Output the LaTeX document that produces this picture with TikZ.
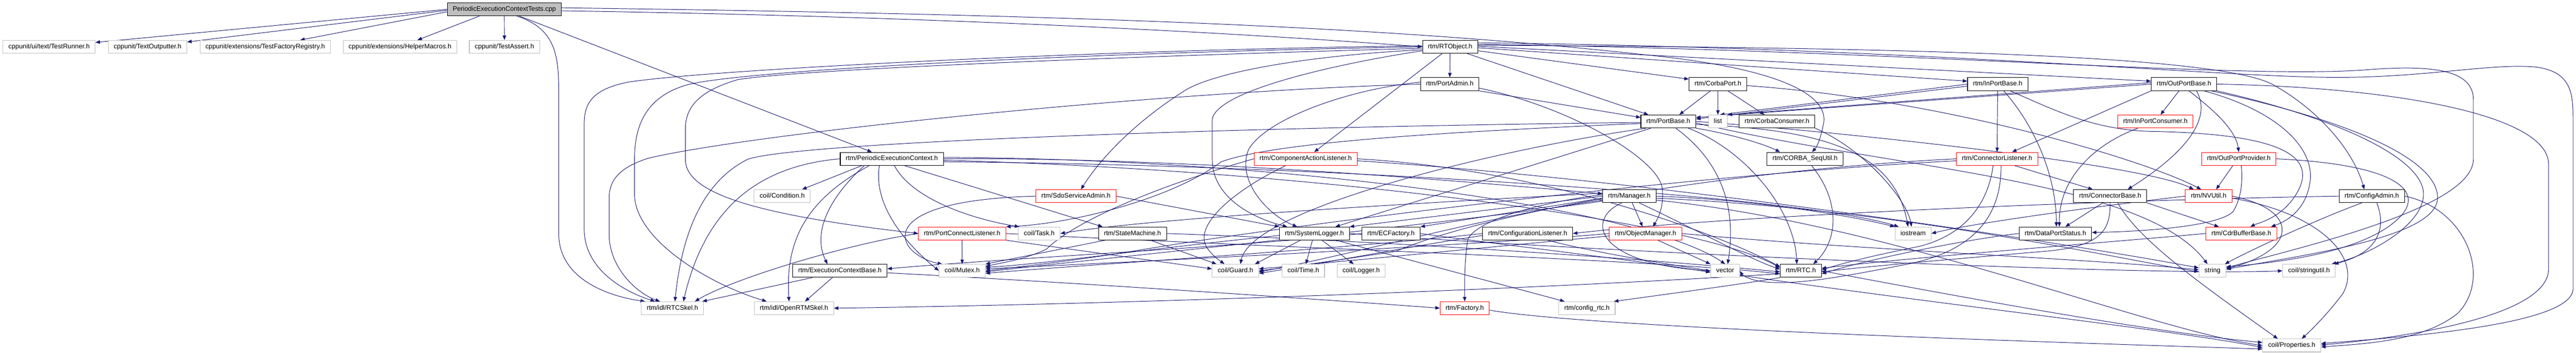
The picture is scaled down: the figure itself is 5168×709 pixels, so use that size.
\documentclass[tikz,border=0pt]{standalone}
\usepackage{fontspec}
\newfontfamily\dxfamily{Liberation Sans}
\newcommand\dxgraphfont{\dxfamily\fontsize{13.2pt}{15pt}\selectfont}
\usetikzlibrary{arrows.meta}
\definecolor{edgeblue}{HTML}{191970}
\definecolor{grey75}{HTML}{BFBFBF}
\pgfdeclarelayer{bg}
\pgfdeclarelayer{edges}
\pgfsetlayers{bg,edges,main}
\begin{document}
\begin{tikzpicture}[x=1pt,y=-1pt,
  nd/.style={draw, line width=1.1pt, fill=white, font=\dxgraphfont, inner xsep=11pt, inner ysep=0pt, minimum height=26pt, text height=9.6pt, text depth=2.7pt},
  gn/.style={nd, draw=grey75},
  bn/.style={nd, draw=black},
  rn/.style={nd, draw=red},
  rootn/.style={nd, draw=black, fill=grey75},
  e/.style={draw=edgeblue, line width=1pt, -{Triangle[length=9pt,width=7pt]}}]
\useasboundingbox (0,0) rectangle (5168,709);
\begin{pgfonlayer}{bg}
\fill[white] (0,0) rectangle (5168,709);
\end{pgfonlayer}
% nodes
\node[rootn] (T) at (1011.8,18.7) {PeriodicExecutionContextTests.cpp};
\node[gn] (testrunner) at (98.5,94) {cppunit/ui/text/TestRunner.h};
\node[gn] (textout) at (296,94) {cppunit/TextOutputter.h};
\node[gn] (tfr) at (532,94) {cppunit/extensions/TestFactoryRegistry.h};
\node[gn] (helper) at (802.5,94) {cppunit/extensions/HelperMacros.h};
\node[gn] (testassert) at (1012,94) {cppunit/TestAssert.h};
\node[bn] (rtobject) at (2909.3,94) {rtm/RTObject.h};
\node[bn] (portadmin) at (2908.5,169) {rtm/PortAdmin.h};
\node[bn] (corbaport) at (3446.5,169) {rtm/CorbaPort.h};
\node[bn] (inportbase) at (4007.8,169) {rtm/InPortBase.h};
\node[bn] (outportbase) at (4381.5,169) {rtm/OutPortBase.h};
\node[bn] (portbase) at (3347,244) {rtm/PortBase.h};
\node[gn] (list) at (3446.5,244) {list};
\node[bn] (corbaconsumer) at (3565,244) {rtm/CorbaConsumer.h};
\node[rn] (inportconsumer) at (4324,244) {rtm/InPortConsumer.h};
\node[bn] (pec) at (1789.2,319) {rtm/PeriodicExecutionContext.h};
\node[rn] (cal) at (2619.5,319) {rtm/ComponentActionListener.h};
\node[bn] (sequtil) at (3621.2,319) {rtm/CORBA\_SeqUtil.h};
\node[rn] (connlistener) at (4006.5,319) {rtm/ConnectorListener.h};
\node[rn] (outportprovider) at (4491.5,319) {rtm/OutPortProvider.h};
\node[gn] (condition) at (1569.2,394) {coil/Condition.h};
\node[rn] (sdoadmin) at (2158.5,394) {rtm/SdoServiceAdmin.h};
\node[bn] (manager) at (3268.7,394) {rtm/Manager.h};
\node[bn] (connbase) at (4233.5,394) {rtm/ConnectorBase.h};
\node[rn] (nvutil) at (4431,394) {rtm/NVUtil.h};
\node[bn] (configadmin) at (4758.3,394) {rtm/ConfigAdmin.h};
\node[rn] (pcl) at (1930.3,469) {rtm/PortConnectListener.h};
\node[gn] (task) at (2085,469) {coil/Task.h};
\node[bn] (statemachine) at (2272,469) {rtm/StateMachine.h};
\node[bn] (syslogger) at (2637,469) {rtm/SystemLogger.h};
\node[bn] (ecfactory) at (2790.5,469) {rtm/ECFactory.h};
\node[bn] (conflistener) at (3064.8,469) {rtm/ConfigurationListener.h};
\node[rn] (objmanager) at (3301.2,469) {rtm/ObjectManager.h};
\node[gn] (iostream) at (3838,469) {iostream};
\node[bn] (dpstatus) at (4123.5,469) {rtm/DataPortStatus.h};
\node[rn] (cdrbuf) at (4496.5,469) {rtm/CdrBufferBase.h};
\node[bn] (ecbase) at (1685,544) {rtm/ExecutionContextBase.h};
\node[gn] (mutex) at (1930.3,544) {coil/Mutex.h};
\node[gn] (guard) at (2478.5,544) {coil/Guard.h};
\node[gn] (time) at (2614.7,544) {coil/Time.h};
\node[gn] (logger) at (2730.7,544) {coil/Logger.h};
\node[gn] (vector) at (3461,544) {vector};
\node[bn] (rtc) at (3612.8,544) {rtm/RTC.h};
\node[gn] (string) at (4438.7,544) {string};
\node[gn] (stringutil) at (4632.3,544) {coil/stringutil.h};
\node[gn] (rtcskel) at (1349,619) {rtm/idl/RTCSkel.h};
\node[gn] (openrtmskel) at (1593,619) {rtm/idl/OpenRTMSkel.h};
\node[rn] (factory) at (2938.5,619) {rtm/Factory.h};
\node[gn] (configrtc) at (3183.8,619) {rtm/config\_rtc.h};
\node[gn] (properties) at (4597.7,694) {coil/Properties.h};

\begin{pgfonlayer}{edges}
% Tests.cpp
\draw[e] (T.west) -- (testrunner);
\draw[e] ([yshift=-2pt]T.west) -- (textout);
\draw[e] ([yshift=-5pt]T.west) -- (tfr);
\draw[e] ([xshift=-50pt]T.south) -- (helper);
\draw[e] (T) -- (testassert);
\draw[e] ([xshift=25pt]T.south) .. controls (1121,60) and (1121,120) .. (1121,200) -- (1121,470) .. controls (1121,560) and (1220,595) .. ([xshift=-55pt]rtcskel.north);
\draw[e] ([xshift=30pt]T.south) -- ([xshift=-40pt]pec.north);
\draw[e] ([yshift=-3pt]T.east) .. controls (2000,35) and (2600,75) .. (rtobject.west);
\draw[e] ([yshift=3pt]T.east) .. controls (2200,30) and (2800,55) .. (3300,110) .. controls (3600,140) and (3670,200) .. (3658,250) .. controls (3652,280) and (3645,295) .. ([xshift=14pt]sequtil.north);
% RTObject
\draw[e] (rtobject) -- (portadmin);
\draw[e] ([xshift=-16pt]rtobject.south) -- ([xshift=17pt]cal.north);
\draw[e] ([xshift=34pt]rtobject.south) -- ([xshift=-40pt]portbase.north);
\draw[e] ([yshift=-8pt]rtobject.east) -- ([yshift=10pt]corbaport.west);
\draw[e] ([yshift=-2pt]rtobject.east) -- ([yshift=6pt]inportbase.west);
\draw[e] ([yshift=1pt]rtobject.east) -- ([yshift=6pt]outportbase.west);
\draw[e] ([yshift=3pt]rtobject.east) .. controls (3800,95) and (4450,110) .. (4560,170) .. controls (4650,220) and (4720,300) .. ([xshift=-15pt]configadmin.north);
\draw[e] ([yshift=5pt]rtobject.east) .. controls (3800,100) and (4500,160) .. (4750,140) .. controls (4880,130) and (4962,140) .. (4962,200) -- (4962,320) .. controls (4962,420) and (4600,500) .. ([yshift=6pt]string.east);
\draw[e] ([yshift=8pt]rtobject.east) .. controls (3800,95) and (4400,150) .. (4650,155) .. controls (4850,160) and (5000,125) .. (5090,135) .. controls (5160,145) and (5162,190) .. (5162,240) -- (5162,580) .. controls (5162,650) and (4850,675) .. ([yshift=4pt]properties.east);
\draw[e] ([yshift=2pt]rtobject.west) .. controls (2200,100) and (1420,140) .. (1260,165) .. controls (1185,180) and (1172,210) .. (1172,250) -- (1172,460) .. controls (1172,540) and (1250,585) .. ([xshift=-35pt]rtcskel.north);
\draw[e] (rtobject.west) .. controls (2200,105) and (1500,140) .. (1380,170) .. controls (1290,195) and (1273,260) .. (1273,320) -- (1273,390) .. controls (1273,480) and (1420,570) .. ([xshift=-55pt]openrtmskel.north);
\draw[e] ([yshift=-3pt]rtobject.west) .. controls (2200,115) and (1600,140) .. (1480,160) .. controls (1395,185) and (1375,220) .. (1375,260) -- (1375,320) .. controls (1375,385) and (1500,430) .. (pcl.west);
\draw[e] ([yshift=-6pt]rtobject.west) .. controls (2650,110) and (2450,140) .. (2380,180) .. controls (2300,230) and (2220,300) .. ([xshift=10pt]sdoadmin.north);
\draw[e] ([yshift=-8pt]rtobject.west) .. controls (2700,125) and (2440,180) .. (2432,240) -- (2432,320) .. controls (2432,400) and (2520,440) .. ([xshift=16pt]syslogger.north west);
% PortAdmin
\draw[e] (portadmin.south east) -- ([yshift=8pt]portbase.west);
\draw[e] ([yshift=-8pt]portadmin.east) .. controls (3150,215) and (3330,320) .. (3335,380) .. controls (3338,420) and (3325,440) .. ([xshift=15pt]objmanager.north);
\draw[e] (portadmin.west) .. controls (2300,185) and (1500,270) .. (1300,318) .. controls (1232,340) and (1222,370) .. (1222,400) -- (1222,470) .. controls (1222,540) and (1280,590) .. ([xshift=-25pt]rtcskel.north);
\draw[e] ([yshift=4pt]portadmin.west) .. controls (2700,180) and (2540,240) .. (2505,300) .. controls (2480,360) and (2540,430) .. ([xshift=36pt]syslogger.north west);
% CorbaPort
\draw[e] ([xshift=-15pt]corbaport.south) -- ([xshift=22pt]portbase.north);
\draw[e] (corbaport) -- (list);
\draw[e] ([xshift=20pt]corbaport.south) -- ([xshift=-25pt]corbaconsumer.north);
\draw[e] ([yshift=-3pt]corbaport.east) .. controls (3900,200) and (4300,320) .. ([xshift=-15pt]nvutil.north);
% InPortBase
\draw[e] (inportbase) -- (connlistener);
\draw[e] ([xshift=12pt]inportbase.south) .. controls (4080,250) and (4125,350) .. ([xshift=2pt]dpstatus.north);
\draw[e] (inportbase.west) -- ([xshift=4pt]list.north);
\draw[e] ([yshift=-4pt]inportbase.west) -- ([yshift=5pt]portbase.east);
\draw[e] ([xshift=25pt]inportbase.south) .. controls (4120,220) and (4200,262) .. (4320,264) .. controls (4620,270) and (4650,330) .. (4600,400) .. controls (4570,440) and (4530,448) .. ([xshift=18pt]cdrbuf.north);
% OutPortBase
\draw[e] ([xshift=-10pt]outportbase.south) -- (inportconsumer);
\draw[e] ([xshift=10pt]outportbase.south) .. controls (4440,220) and (4485,260) .. (outportprovider.north);
\draw[e] (outportbase.south west) -- ([xshift=30pt]connlistener.north);
\draw[e] ([xshift=25pt]outportbase.south) .. controls (4440,240) and (4380,310) .. ([xshift=35pt]connbase.north);
\draw[e] ([xshift=40pt]outportbase.south) .. controls (4560,220) and (4640,290) .. (4635,360) .. controls (4630,410) and (4600,440) .. ([xshift=-12pt]cdrbuf.north east);
\draw[e] (outportbase.south east) .. controls (4700,240) and (4862,320) .. (4862,390) .. controls (4862,450) and (4760,510) .. ([xshift=-8pt]stringutil.north east);
\draw[e] ([xshift=55pt]outportbase.south) .. controls (4750,250) and (4895,330) .. (4890,400) .. controls (4885,480) and (4600,515) .. ([yshift=3pt]string.east);
\draw[e] (outportbase.east) .. controls (4800,175) and (5113,230) .. (5113,330) -- (5113,540) .. controls (5113,640) and (4800,680) .. ([yshift=1pt]properties.east);
\draw[e] ([yshift=3pt]outportbase.west) -- (list.north east);
\draw[e] (outportbase.west) -- ([yshift=8pt]portbase.east);
% InPortConsumer
\draw[e] ([xshift=-35pt]inportconsumer.south) .. controls (4200,290) and (4130,360) .. ([xshift=8pt]dpstatus.north);
% ConnectorListener
\draw[e] ([xshift=35pt]connlistener.south) -- ([xshift=-35pt]connbase.north);
\draw[e] ([xshift=-8pt]connlistener.south) .. controls (3990,400) and (3950,470) .. (3850,495) .. controls (3750,515) and (3700,528) .. ([yshift=2pt]rtc.east);
\draw[e] ([xshift=8pt]connlistener.south) .. controls (4015,420) and (3975,500) .. (3830,530) .. controls (3700,555) and (3600,575) .. (3530,565) .. controls (3505,560) and (3495,552) .. (vector.east);
\draw[e] (connlistener.west) .. controls (3500,340) and (3000,420) .. (2800,505) .. controls (2700,520) and (2600,535) .. (guard.east);
\draw[e] ([yshift=-4pt]connlistener.west) .. controls (3400,350) and (2600,450) .. (2300,500) .. controls (2150,525) and (2050,535) .. (mutex.east);
% ConnectorBase
\draw[e] ([xshift=-15pt]connbase.south) -- ([xshift=20pt]dpstatus.north);
\draw[e] (connbase.south) .. controls (4233,460) and (4220,495) .. (4100,505) .. controls (3900,522) and (3750,535) .. ([yshift=-2pt]rtc.east);
\draw[e] ([xshift=15pt]connbase.south) .. controls (4290,480) and (4400,560) .. ([xshift=-28pt]properties.north);
\draw[e] (connbase.south east) -- ([xshift=-45pt]cdrbuf.north);
% DataPortStatus
\draw[e] (dpstatus.west) .. controls (3950,480) and (3750,520) .. ([yshift=-6pt]rtc.east);
% OutPortProvider
\draw[e] ([xshift=-12pt]outportprovider.south) -- ([xshift=15pt]nvutil.north);
\draw[e] ([xshift=5pt]outportprovider.south) .. controls (4500,370) and (4495,400) .. (4480,425) .. controls (4450,455) and (4300,465) .. ([yshift=2pt]dpstatus.east);
\draw[e] (outportprovider.east) .. controls (4800,330) and (4860,380) .. (4820,430) .. controls (4760,500) and (4600,525) .. ([yshift=8pt]string.east);
% NVUtil
\draw[e] (nvutil.east) .. controls (4610,420) and (4615,500) .. ([yshift=4pt]string.east);
\draw[e] ([yshift=-4pt]nvutil.east) .. controls (4660,430) and (4740,520) .. (4700,590) .. controls (4670,630) and (4640,660) .. ([xshift=20pt]properties.north);
\draw[e] (nvutil.west) .. controls (4200,415) and (3950,450) .. (iostream.east);
% CdrBufferBase
\draw[e] (cdrbuf.west) .. controls (4250,485) and (3800,520) .. ([yshift=5pt]rtc.east);
% ConfigAdmin
\draw[e] ([xshift=-20pt]configadmin.south) .. controls (4650,440) and (4520,500) .. ([xshift=-3pt]string.north east);
\draw[e] ([xshift=10pt]configadmin.south) .. controls (4785,450) and (4780,505) .. ([xshift=-3pt]stringutil.north east);
\draw[e] (configadmin.east) .. controls (4950,420) and (5000,560) .. (4930,630) .. controls (4860,685) and (4750,690) .. ([yshift=-3pt]properties.east);
\draw[e] (configadmin.west) .. controls (4300,400) and (3500,430) .. (conflistener.east);
% ObjectManager
\draw[e] ([xshift=25pt]objmanager.south) -- (vector.north west);
\draw[e] (objmanager.east) .. controls (3700,500) and (4200,520) .. ([yshift=2pt]string.west);
\draw[e] (objmanager.west) .. controls (3000,490) and (2300,525) .. ([yshift=4pt]mutex.east);
\draw[e] ([yshift=-5pt]objmanager.west) .. controls (3000,495) and (2700,525) .. ([yshift=4pt]guard.east);
% Manager
\draw[e] (manager) -- (objmanager);
\draw[e] (manager.west) -- (syslogger.north east);
\draw[e] ([yshift=-4pt]manager.west) -- (ecfactory.north east);
\draw[e] ([yshift=3pt]manager.west) .. controls (3100,405) and (2965,440) .. (2945,480) .. controls (2938,520) and (2938,570) .. (factory.north);
\draw[e] ([xshift=-15pt]manager.south) .. controls (3180,440) and (3200,530) .. (vector.west);
\draw[e] (manager.east) .. controls (3500,400) and (3700,430) .. (iostream.north west);
\draw[e] ([yshift=-4pt]manager.east) .. controls (3800,420) and (4200,510) .. ([yshift=-2pt]string.west);
\draw[e] ([xshift=20pt]manager.south) .. controls (3400,460) and (3510,520) .. ([yshift=3pt]rtc.west);
\draw[e] ([yshift=6pt]manager.west) .. controls (2800,410) and (2300,440) .. (task.east);
\draw[e] ([yshift=-8pt]manager.west) .. controls (3000,430) and (2700,515) .. ([yshift=-2pt]guard.east);
\draw[e] ([yshift=-10pt]manager.west) .. controls (2900,450) and (2200,520) .. ([yshift=-2pt]mutex.east);
\draw[e] ([yshift=-8pt]manager.east) .. controls (3800,450) and (4300,660) .. (properties.west);
% ECFactory
\draw[e] (ecfactory.west) .. controls (2500,495) and (2000,520) .. ([yshift=4pt]ecbase.east);
\draw[e] (ecfactory.east) .. controls (3000,490) and (3300,525) .. ([yshift=-3pt]vector.west);
% ConfigurationListener
\draw[e] ([xshift=40pt]conflistener.south) .. controls (3400,560) and (4300,650) .. ([yshift=-4pt]properties.west);
\draw[e] (conflistener.west) .. controls (2700,500) and (2200,530) .. ([yshift=-5pt]mutex.east);
\draw[e] ([yshift=-4pt]conflistener.west) .. controls (2800,500) and (2650,530) .. ([yshift=-5pt]guard.east);
% SystemLogger
\draw[e] ([xshift=-4pt]syslogger.south) -- ([xshift=5pt]time.north);
\draw[e] ([xshift=15pt]syslogger.south) -- ([xshift=-15pt]logger.north);
\draw[e] ([xshift=43pt]syslogger.south) -- ([xshift=-45pt]configrtc.north);
\draw[e] ([xshift=-28pt]syslogger.south) -- ([xshift=-8pt]guard.north east);
\draw[e] ([yshift=-4pt]syslogger.west) .. controls (2300,500) and (2100,530) .. ([yshift=7pt]mutex.east);
\draw[e] (syslogger.east) .. controls (3200,505) and (4300,555) .. (stringutil.west);
% ComponentActionListener
\draw[e] ([xshift=-40pt]cal.south) .. controls (2480,380) and (2395,450) .. (2420,495) .. controls (2430,512) and (2445,522) .. ([xshift=-22pt]guard.north);
\draw[e] (cal.west) .. controls (2300,380) and (2150,450) .. (2100,500) .. controls (2060,520) and (2010,528) .. ([yshift=9pt]mutex.east);
\draw[e] (cal.east) .. controls (3100,340) and (3450,470) .. ([yshift=8pt]rtc.west);
\draw[e] ([yshift=-4pt]cal.east) .. controls (3300,360) and (4100,480) .. ([yshift=6pt]string.west);
% SdoServiceAdmin
\draw[e] (sdoadmin.east) -- (syslogger.north west);
\draw[e] (sdoadmin.west) .. controls (1850,400) and (1800,450) .. (1820,490) .. controls (1830,510) and (1860,525) .. ([xshift=-40pt]mutex.north);
% PortConnectListener
\draw[e] (pcl) -- (mutex);
\draw[e] (pcl.south east) -- ([yshift=4pt]guard.west);
\draw[e] (pcl.west) .. controls (1700,490) and (1470,560) .. ([xshift=45pt]rtcskel.north);
\draw[e] (pcl.east) .. controls (2500,495) and (3300,520) .. ([yshift=-6pt]rtc.west);
% StateMachine
\draw[e] ([xshift=-55pt]statemachine.south) -- (mutex.north east);
\draw[e] ([xshift=36pt]statemachine.south) -- ([xshift=-38pt]guard.north);
\draw[e] (statemachine.east) .. controls (2800,485) and (3300,520) .. ([yshift=-2pt]rtc.west);
% PeriodicExecutionContext
\draw[e] ([xshift=-60pt]pec.south) -- ([xshift=40pt]condition.north);
\draw[e] ([xshift=-55pt]pec.south) .. controls (1660,400) and (1630,470) .. ([xshift=-25pt]ecbase.north);
\draw[e] ([xshift=-45pt]pec.south) .. controls (1620,400) and (1575,480) .. ([xshift=-10pt]openrtmskel.north);
\draw[e] (pec.west) .. controls (1500,335) and (1410,440) .. ([xshift=22pt]rtcskel.north);
\draw[e] ([xshift=5pt]pec.south) .. controls (1830,400) and (1950,440) .. ([xshift=2pt]task.north west);
\draw[e] ([xshift=25pt]pec.south) -- ([xshift=-60pt]statemachine.north);
\draw[e] ([xshift=-25pt]pec.south) .. controls (1750,420) and (1830,500) .. (mutex.west);
\draw[e] (pec.east) .. controls (2400,315) and (3000,370) .. ([yshift=5pt]manager.west);
\draw[e] ([yshift=-3pt]pec.east) .. controls (2600,340) and (3400,440) .. ([yshift=6pt]rtc.west);
\draw[e] ([yshift=3pt]pec.east) .. controls (2600,320) and (3300,420) .. (vector.north);
\draw[e] ([yshift=-6pt]pec.east) .. controls (2600,330) and (3600,390) .. ([xshift=8pt]iostream.north west);
% ExecutionContextBase
\draw[e] ([xshift=-55pt]ecbase.south) -- ([xshift=-3pt]rtcskel.north east);
\draw[e] ([xshift=-15pt]ecbase.south) -- ([xshift=22pt]openrtmskel.north);
\draw[e] ([yshift=-4pt]ecbase.east) .. controls (2200,570) and (2700,605) .. (factory.west);
% RTC
\draw[e] (rtc.south west) .. controls (3500,570) and (3350,590) .. ([xshift=-3pt]configrtc.north east);
\draw[e] ([yshift=-6pt]rtc.west) .. controls (3000,585) and (2200,612) .. (openrtmskel.east);
\draw[e] (rtc.east) .. controls (3900,590) and (4300,665) .. ([yshift=6pt]properties.west);
% Factory
\draw[e] ([yshift=-4pt]factory.east) .. controls (3200,660) and (4200,690) .. ([yshift=-7pt]properties.west);
% CORBA_SeqUtil, CorbaConsumer
\draw[e] ([xshift=13pt]sequtil.south) .. controls (3690,400) and (3690,480) .. ([xshift=25pt]rtc.north);
\draw[e] (corbaconsumer.south east) .. controls (3740,300) and (3825,400) .. ([xshift=-3pt]iostream.north);
% PortBase
\draw[e] ([yshift=-2pt]portbase.west) .. controls (2500,255) and (1600,285) .. (1500,320) .. controls (1420,360) and (1370,450) .. ([xshift=5pt]rtcskel.north);
\draw[e] (portbase.south east) .. controls (3450,265) and (3530,285) .. ([xshift=-50pt]sequtil.north);
\draw[e] ([xshift=-35pt]portbase.south) -- ([xshift=42pt]syslogger.north);
\draw[e] ([yshift=-4pt]portbase.west) .. controls (2900,265) and (2560,285) .. (2450,325) .. controls (2350,400) and (2150,450) .. (pcl.north east);
\draw[e] (portbase.east) .. controls (3700,265) and (4300,330) .. ([xshift=-30pt]nvutil.north);
\draw[e] ([xshift=15pt]portbase.south) .. controls (3420,300) and (3490,380) .. ([xshift=5pt]vector.north);
\draw[e] ([xshift=40pt]portbase.south) .. controls (3500,300) and (3600,420) .. ([xshift=-8pt]rtc.north);
\draw[e] ([yshift=-6pt]portbase.east) .. controls (3650,260) and (3800,300) .. ([xshift=-10pt]iostream.north);
\draw[e] ([yshift=-3pt]portbase.east) .. controls (3800,340) and (4300,360) .. ([xshift=-10pt]string.north);
\draw[e] ([xshift=-45pt]portbase.south) .. controls (3000,300) and (2510,420) .. ([xshift=10pt]guard.north);
\end{pgfonlayer}
\end{tikzpicture}
\end{document}
